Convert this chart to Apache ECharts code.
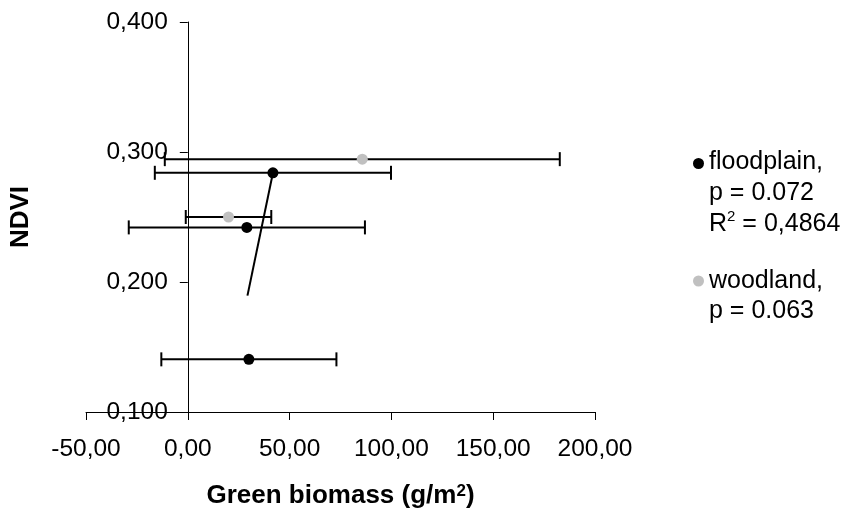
<!DOCTYPE html>
<html>
<head>
<meta charset="utf-8">
<script src="https://cdn.jsdelivr.net/npm/echarts@6/dist/echarts.min.js"></script>
<style>
  html, body { margin: 0; padding: 0; background: #fff; }
  #chart { width: 849px; height: 512px; }
</style>
</head>
<body>
<div id="chart"></div>
<script>
// floodplain plots: mean green biomass, NDVI, sd of biomass
const floodBiomass = [41.8, 29.0, 30.0]
const floodNdvi = [0.284, 0.242, 0.1405]
const floodSd = [58, 58, 43]
// woodland plots
const woodBiomass = [85.7, 20.0]
const woodNdvi = [0.2945, 0.250]
const woodSd = [97, 21]
// trend line of floodplain (end points)
const trendBiomass = [29.3, 41.8]
const trendNdvi = [0.1895, 0.2838]

const FONT = "'Liberation Sans', Arial, sans-serif"

const errData = (mean, ndvi, sd) => mean.map((m, i) => [m - sd[i], m + sd[i], ndvi[i]])
const pts = (xs, ys) => xs.map((x, i) => [x, ys[i]])

function renderErr(params, api) {
  const y = api.value(2)
  const a = api.coord([api.value(0), y])
  const b = api.coord([api.value(1), y])
  const h = 7
  const style = { stroke: '#000', lineWidth: 2 }
  return {
    type: 'group',
    children: [
      { type: 'line', shape: { x1: a[0], y1: a[1], x2: b[0], y2: b[1] }, style: style },
      { type: 'line', shape: { x1: a[0], y1: a[1] - h, x2: a[0], y2: a[1] + h }, style: style },
      { type: 'line', shape: { x1: b[0], y1: b[1] - h, x2: b[0], y2: b[1] + h }, style: style },
    ],
  }
}

const legendLabel = {
  floodplain: 'floodplain,\np = 0.072\nR{sup|2} = 0,4864',
  woodland: 'woodland,\np = 0.063',
}
const legendRich = {
  sup: { fontSize: 15, lineHeight: 16, verticalAlign: 'top', fontFamily: FONT, color: '#000' },
}

const GRID_LEFT = 86
const GRID_W = 509
// y axis crosses the x axis at biomass 0 (x range -50..200)
const yAxisShift = -GRID_W * 50 / 250

const chart = echarts.init(document.getElementById('chart'), null, { renderer: 'canvas' })
chart.setOption({
  animation: false,
  textStyle: { fontFamily: FONT },
  grid: { left: GRID_LEFT, width: GRID_W, top: 22, bottom: 100, containLabel: false, outerBoundsMode: 'none' },
  legend: [
    {
      left: 693,
      top: 87,
      padding: 0,
      itemWidth: 11,
      itemHeight: 11,
      data: [{ name: 'floodplain', textStyle: { padding: [60, 0, 0, 0] } }],
      formatter: (n) => legendLabel[n],
      textStyle: { fontSize: 25, lineHeight: 31, color: '#000', fontFamily: FONT, rich: legendRich },
    },
    {
      left: 693,
      top: 236,
      padding: 0,
      itemWidth: 11,
      itemHeight: 11,
      data: [{ name: 'woodland', textStyle: { padding: [30, 0, 0, 0] } }],
      formatter: (n) => legendLabel[n],
      textStyle: { fontSize: 25, lineHeight: 30, color: '#000', fontFamily: FONT, rich: legendRich },
    },
  ],
  xAxis: {
    type: 'value',
    min: -50,
    max: 200,
    interval: 50,
    name: 'Green biomass (g/m{sup|2})',
    nameLocation: 'middle',
    nameGap: 71,
    nameTextStyle: {
      fontSize: 26,
      fontWeight: 'bold',
      color: '#000',
      fontFamily: FONT,
      rich: { sup: { fontSize: 17, fontWeight: 'bold', verticalAlign: 'top', lineHeight: 14, fontFamily: FONT } },
    },
    axisLine: { onZero: false, lineStyle: { color: '#000', width: 1 } },
    axisTick: { show: true, length: 8, lineStyle: { color: '#000' } },
    axisLabel: {
      margin: 25,
      fontSize: 24.5,
      color: '#000',
      fontFamily: FONT,
      formatter: (v) => v.toFixed(2).replace('.', ','),
    },
    splitLine: { show: false },
  },
  yAxis: {
    type: 'value',
    min: 0.1,
    max: 0.4,
    interval: 0.1,
    offset: yAxisShift,
    name: 'NDVI',
    nameLocation: 'middle',
    nameGap: 154,
    nameTextStyle: { fontSize: 26, fontWeight: 'bold', color: '#000', fontFamily: FONT },
    axisLine: { show: true, onZero: false, lineStyle: { color: '#000', width: 1 } },
    axisTick: { show: true, length: 8, lineStyle: { color: '#000' } },
    axisLabel: {
      margin: 20,
      fontSize: 24.5,
      color: '#000',
      fontFamily: FONT,
      formatter: (v) => v.toFixed(3).replace('.', ','),
    },
    splitLine: { show: false },
  },
  series: [
    {
      name: 'floodplainErr',
      type: 'custom',
      renderItem: renderErr,
      encode: { x: [0, 1], y: 2 },
      data: errData(floodBiomass, floodNdvi, floodSd),
      z: 1,
    },
    {
      name: 'woodlandErr',
      type: 'custom',
      renderItem: renderErr,
      encode: { x: [0, 1], y: 2 },
      data: errData(woodBiomass, woodNdvi, woodSd),
      z: 1,
    },
    {
      name: 'trend',
      type: 'line',
      data: pts(trendBiomass, trendNdvi),
      showSymbol: false,
      lineStyle: { color: '#000', width: 2 },
      z: 2,
    },
    {
      name: 'floodplain',
      type: 'scatter',
      symbol: 'circle',
      symbolSize: 11,
      itemStyle: { color: '#000', opacity: 1 },
      data: pts(floodBiomass, floodNdvi),
      z: 3,
    },
    {
      name: 'woodland',
      type: 'scatter',
      symbol: 'circle',
      symbolSize: 11,
      itemStyle: { color: '#C0C0C0', opacity: 1 },
      data: pts(woodBiomass, woodNdvi),
      z: 3,
    },
  ],
})
</script>
</body>
</html>
